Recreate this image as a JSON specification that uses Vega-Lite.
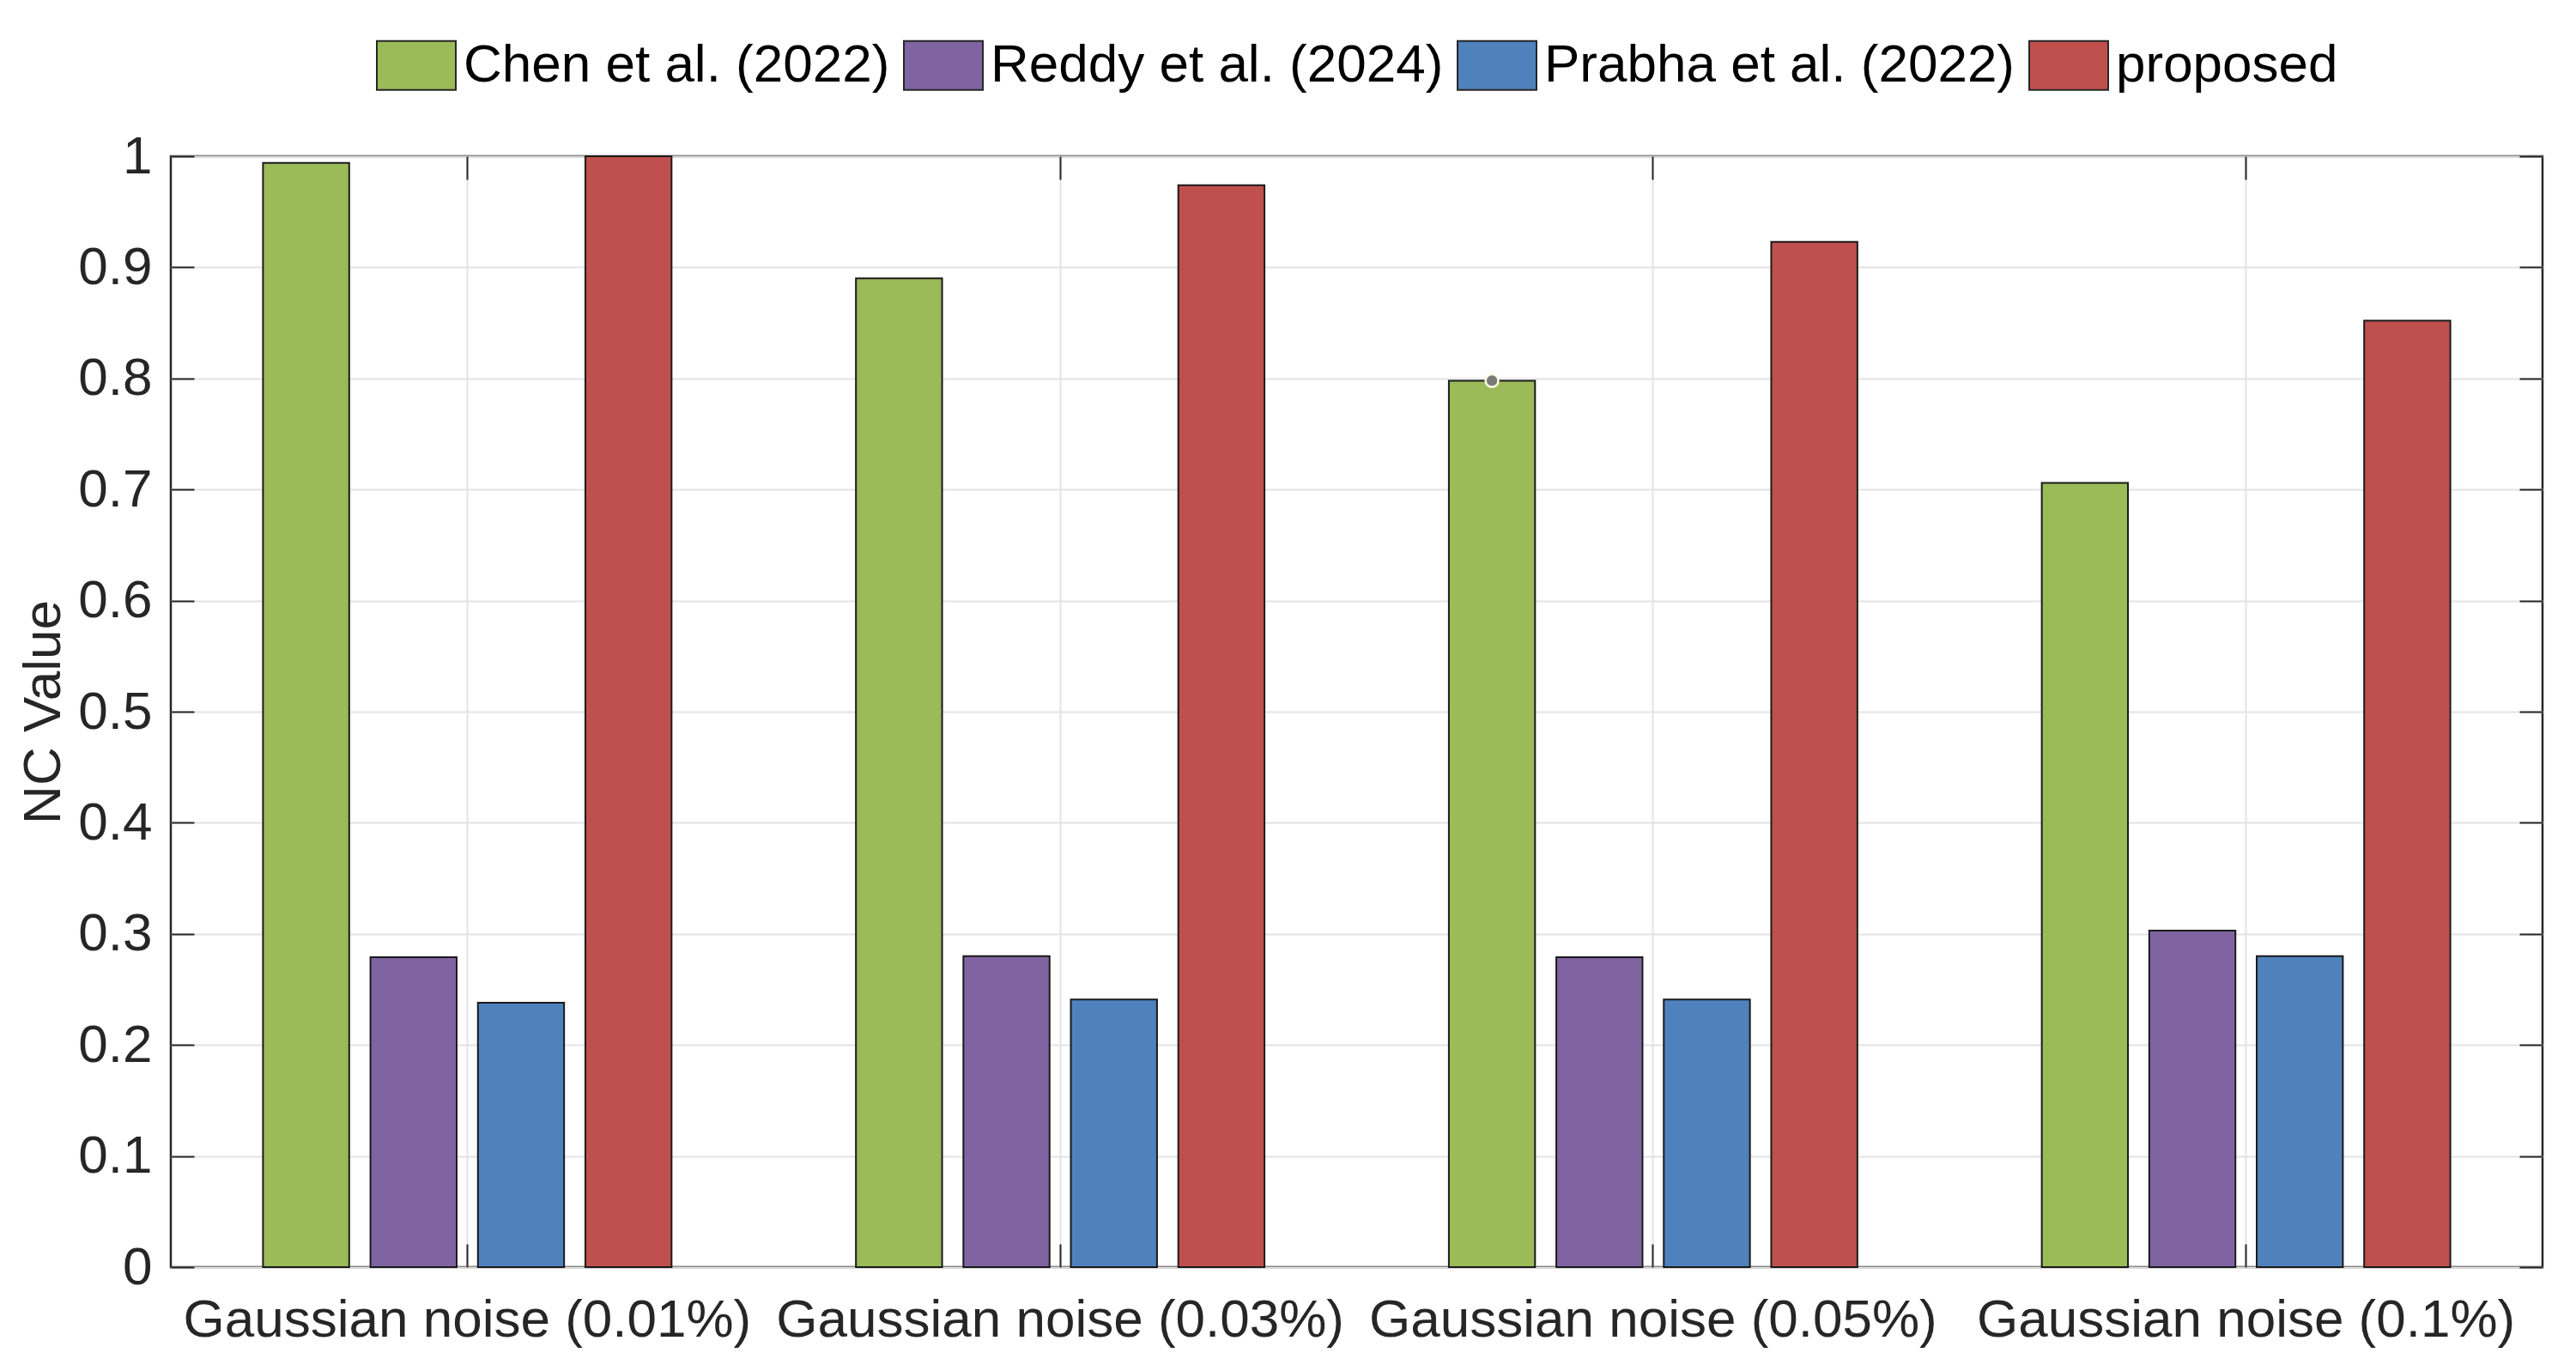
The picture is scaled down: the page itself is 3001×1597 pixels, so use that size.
{
  "$schema": "https://vega.github.io/schema/vega-lite/v6.json",
  "autosize": {"type": "none"},
  "padding": {"left": 199, "top": 182, "right": 39, "bottom": 121},
  "width": 2763,
  "height": 1294,
  "background": "white",
  "data": {"values": [
    {"group": "Gaussian noise (0.01%)", "method": "Chen et al. (2022)", "nc": 0.994},
    {"group": "Gaussian noise (0.01%)", "method": "Reddy et al. (2024)", "nc": 0.279},
    {"group": "Gaussian noise (0.01%)", "method": "Prabha et al. (2022)", "nc": 0.238},
    {"group": "Gaussian noise (0.01%)", "method": "proposed", "nc": 1.0},
    {"group": "Gaussian noise (0.03%)", "method": "Chen et al. (2022)", "nc": 0.890},
    {"group": "Gaussian noise (0.03%)", "method": "Reddy et al. (2024)", "nc": 0.280},
    {"group": "Gaussian noise (0.03%)", "method": "Prabha et al. (2022)", "nc": 0.241},
    {"group": "Gaussian noise (0.03%)", "method": "proposed", "nc": 0.974},
    {"group": "Gaussian noise (0.05%)", "method": "Chen et al. (2022)", "nc": 0.798},
    {"group": "Gaussian noise (0.05%)", "method": "Reddy et al. (2024)", "nc": 0.279},
    {"group": "Gaussian noise (0.05%)", "method": "Prabha et al. (2022)", "nc": 0.241},
    {"group": "Gaussian noise (0.05%)", "method": "proposed", "nc": 0.923},
    {"group": "Gaussian noise (0.1%)", "method": "Chen et al. (2022)", "nc": 0.706},
    {"group": "Gaussian noise (0.1%)", "method": "Reddy et al. (2024)", "nc": 0.303},
    {"group": "Gaussian noise (0.1%)", "method": "Prabha et al. (2022)", "nc": 0.280},
    {"group": "Gaussian noise (0.1%)", "method": "proposed", "nc": 0.852}
  ]},
  "layer": [
    {
      "mark": {"type": "bar", "stroke": "#1a1a1a", "strokeWidth": 2, "opacity": 1},
      "encoding": {
        "x": {"field": "group", "type": "nominal", "sort": null,
              "scale": {"paddingInner": 0, "paddingOuter": -0.013},
              "axis": {"title": null, "labelAngle": 0, "grid": true, "labelPadding": 58, "labelLimit": 0,
                       "labelFontSize": 62, "labelFont": "Liberation Sans", "labelColor": "#262626",
                       "tickSize": -27, "tickWidth": 2, "tickColor": "#262626", "domain": false}},
        "xOffset": {"field": "method", "type": "nominal", "sort": ["Chen et al. (2022)", "Reddy et al. (2024)", "Prabha et al. (2022)", "proposed"],
                    "scale": {"paddingInner": 0.198, "paddingOuter": 0.858}},
        "y": {"field": "nc", "type": "quantitative",
              "scale": {"domain": [0, 1], "nice": false, "zero": true},
              "axis": {"title": "NC Value", "values": [0, 0.1, 0.2, 0.3, 0.4, 0.5, 0.6, 0.7, 0.8, 0.9, 1], "format": ".2~f",
                       "labelPadding": 49, "labelFontSize": 62, "labelFont": "Liberation Sans", "labelColor": "#262626",
                       "titleFontSize": 62, "titleFont": "Liberation Sans", "titleFontWeight": "normal", "titleColor": "#262626",
                       "titlePadding": 8, "tickSize": -27, "tickWidth": 2, "tickColor": "#262626", "domain": false,
                       "grid": true}},
        "color": {"field": "method", "type": "nominal",
                  "scale": {"domain": ["Chen et al. (2022)", "Reddy et al. (2024)", "Prabha et al. (2022)", "proposed"],
                            "range": ["#9BBB59", "#8064A2", "#4F81BD", "#C0504D"]},
                  "legend": {"title": null, "orient": "none", "direction": "horizontal", "legendX": 239, "legendY": -153,
                             "symbolType": "M-1,-0.62H1V0.62H-1Z", "symbolSize": 8464, "symbolStrokeColor": "#262626",
                             "symbolStrokeWidth": 2, "symbolOpacity": 1, "labelFontSize": 62, "labelFont": "Liberation Sans",
                             "labelColor": "#000000", "labelOffset": 8, "columnPadding": 12, "padding": 0, "labelLimit": 0}}
      }
    },
    {
      "transform": [{"filter": "datum.method === 'Chen et al. (2022)' && datum.group === 'Gaussian noise (0.05%)'"}],
      "mark": {"type": "point", "filled": true, "fill": "#7a7a7a", "stroke": "#fffbe0", "strokeWidth": 2.5, "size": 220, "opacity": 1},
      "encoding": {
        "x": {"field": "group", "type": "nominal", "sort": null,
              "axis": {"orient": "top", "labels": false, "title": null, "grid": false, "domain": false,
                       "tickSize": -27, "tickWidth": 2, "tickColor": "#262626"}},
        "xOffset": {"field": "method", "type": "nominal", "sort": ["Chen et al. (2022)", "Reddy et al. (2024)", "Prabha et al. (2022)", "proposed"]},
        "y": {"field": "nc", "type": "quantitative",
              "axis": {"orient": "right", "labels": false, "title": null, "grid": false, "domain": false,
                       "values": [0, 0.1, 0.2, 0.3, 0.4, 0.5, 0.6, 0.7, 0.8, 0.9, 1],
                       "tickSize": -27, "tickWidth": 2, "tickColor": "#262626"}}
      }
    }
  ],
  "resolve": {"axis": {"x": "independent", "y": "independent"}},
  "config": {
    "view": {"stroke": "#262626", "strokeWidth": 2.5},
    "axis": {"gridColor": "#e3e3e3", "gridWidth": 2},
    "font": "Liberation Sans"
  }
}
